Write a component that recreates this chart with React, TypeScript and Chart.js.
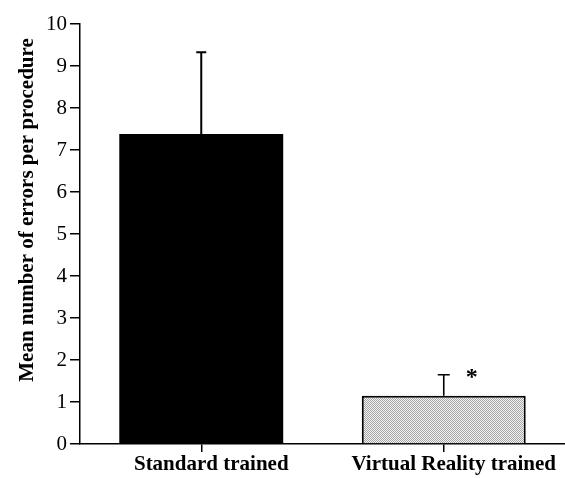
import React, { useEffect, useRef } from "react";
import { Chart, registerables } from "chart.js";

Chart.register(...registerables);

const categories = ["Standard trained", "Virtual Reality trained"];
const meanErrors = [7.38, 1.15];
const errorUpper = [9.33, 1.65];
const significance = ["", "*"];
const yTicks = [0, 1, 2, 3, 4, 5, 6, 7, 8, 9, 10];
const yTitle = "Mean number of errors per procedure";

const SERIF = "'Liberation Serif', 'Times New Roman', Times, serif";

function makeStipple(): CanvasPattern | string {
  const c = document.createElement("canvas");
  c.width = 2;
  c.height = 2;
  const g = c.getContext("2d");
  if (!g) return "#cccccc";
  g.fillStyle = "#f2f2f2";
  g.fillRect(0, 0, 2, 2);
  g.fillStyle = "#a6a6a6";
  g.fillRect(0, 0, 1, 1);
  g.fillRect(1, 1, 1, 1);
  const p = g.createPattern(c, "repeat");
  return p || "#cccccc";
}

const extras = {
  id: "extras",
  afterDatasetsDraw(chart: any) {
    const ctx = chart.ctx;
    const x = chart.scales.x;
    const y = chart.scales.y;
    ctx.save();
    ctx.strokeStyle = "#000";
    errorUpper.forEach((v, i) => {
      const cx = x.getPixelForValue(i);
      const top = y.getPixelForValue(v);
      const base = y.getPixelForValue(meanErrors[i]);
      ctx.lineWidth = i === 0 ? 2 : 1.6;
      ctx.beginPath();
      ctx.moveTo(cx, base);
      ctx.lineTo(cx, top);
      const half = i === 0 ? 5 : 6;
      ctx.moveTo(cx - half, top);
      ctx.lineTo(cx + half, top);
      ctx.stroke();
      if (significance[i]) {
        ctx.fillStyle = "#000";
        ctx.font = "bold 24px " + SERIF;
        ctx.textAlign = "center";
        ctx.textBaseline = "middle";
        ctx.fillText(significance[i], cx + 28, top + 3);
      }
    });
    // rotated y title
    ctx.fillStyle = "#000";
    ctx.font = "bold 21px " + SERIF;
    ctx.textAlign = "center";
    ctx.textBaseline = "middle";
    ctx.translate(28, 210);
    ctx.rotate(-Math.PI / 2);
    ctx.fillText(yTitle, 0, 0);
    ctx.restore();
  },
};

export default function App() {
  const ref = useRef<HTMLCanvasElement | null>(null);
  useEffect(() => {
    if (!ref.current) return;
    const stipple = makeStipple();
    const chart = new Chart(ref.current, {
      type: "bar",
      data: {
        labels: categories,
        datasets: [
          {
            data: meanErrors,
            backgroundColor: ["#000000", stipple as any],
            borderColor: "#000",
            borderWidth: [0, 2],
            barPercentage: 1,
            categoryPercentage: 0.676,
          },
        ],
      },
      options: {
        responsive: false,
        animation: false,
        layout: { padding: { top: 24, left: 0, right: 0, bottom: 0 } },
        plugins: { legend: { display: false }, tooltip: { enabled: false } },
        scales: {
          x: {
            afterFit: (s: any) => {
              s.height = 34;
            },
            grid: {
              drawOnChartArea: false,
              offset: false,
              tickLength: 8,
              color: "#000",
              lineWidth: 1.5,
            },
            border: { color: "#000", width: 1.5 },
            ticks: {
              color: "#000",
              font: { family: SERIF, size: 21, weight: "bold" },
              padding: 0,
              labelOffset: 10,
              maxRotation: 0,
            },
          },
          y: {
            min: 0,
            max: 10,
            afterFit: (s: any) => {
              s.width = 80;
            },
            afterBuildTicks: (s: any) => {
              s.ticks = yTicks.map((v) => ({ value: v }));
            },
            grid: {
              drawOnChartArea: false,
              tickLength: 10,
              color: "#000",
              lineWidth: 1.5,
            },
            border: { color: "#000", width: 1.5 },
            ticks: {
              color: "#000",
              font: { family: SERIF, size: 21 },
              padding: 3,
            },
          },
        },
      },
      plugins: [extras],
    });
    return () => chart.destroy();
  }, []);
  return (
    <canvas
      ref={ref}
      width={565}
      height={478}
      style={{ position: "absolute", left: 0, top: 0, display: "block" }}
    />
  );
}
